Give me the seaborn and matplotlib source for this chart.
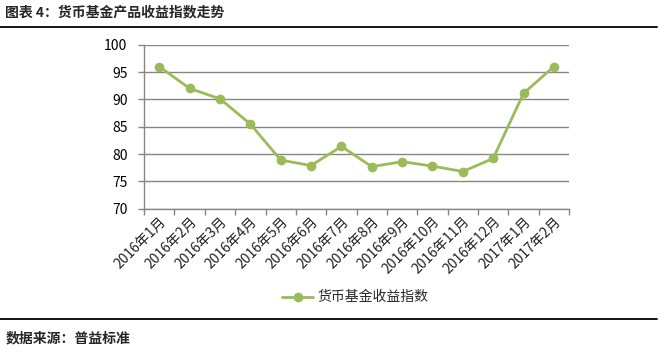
import numpy as np
import pandas as pd
import matplotlib
matplotlib.use('Agg')
import matplotlib.pyplot as plt
import seaborn as sns
from matplotlib.lines import Line2D

months = ['2016年1月', '2016年2月', '2016年3月', '2016年4月', '2016年5月', '2016年6月',
          '2016年7月', '2016年8月', '2016年9月', '2016年10月', '2016年11月', '2016年12月',
          '2017年1月', '2017年2月']
index_values = [96.0, 92.0, 90.1, 85.5, 78.9, 77.9, 81.4, 77.7, 78.6, 77.8, 76.8, 79.2, 91.1, 96.0]
series_name = '货币基金收益指数'
yticks = [70, 75, 80, 85, 90, 95, 100]

sns.set_theme(style='white')
plt.rcParams['font.family'] = ['Noto Sans CJK SC', 'DejaVu Sans']

green = '#9BBB59'
grid_c = '#868686'

df = pd.DataFrame({'pos': np.arange(len(months)), 'value': index_values})

fig = plt.figure(figsize=(6.64, 3.52), dpi=100)
ax = fig.add_axes([0.217, 0.407, 0.640, 0.466])

sns.lineplot(data=df, x='pos', y='value', ax=ax, color=green, linewidth=2,
             marker='o', markersize=7, markeredgewidth=0, legend=False)

ax.set_xlim(-0.5, len(months) - 0.5)
ax.set_ylim(70, 100)
ax.set_yticks(yticks)
ax.set_yticklabels([str(v) for v in yticks], fontsize=10, color='black')
ax.yaxis.grid(True, color=grid_c, linewidth=1)
ax.set_axisbelow(True)

# Excel-style: ticks between categories, labels at the centres
ax.set_xticks(np.arange(-0.5, len(months), 1.0))
ax.set_xticklabels([])
ax.set_xticks(np.arange(len(months)), minor=True)
ax.set_xticklabels(months, minor=True, rotation=45, ha='right', rotation_mode='anchor',
                   fontsize=10, color='#222222')
ax.tick_params(axis='x', which='major', length=4, color=grid_c, width=1, direction='out', bottom=True)
ax.tick_params(axis='x', which='minor', length=0, pad=4)
ax.tick_params(axis='y', length=4, color=grid_c, width=1, direction='out', left=True, pad=8)
ax.set_xlabel('')
ax.set_ylabel('')

for s in ['top', 'right']:
    ax.spines[s].set_visible(False)
for s in ['left', 'bottom']:
    ax.spines[s].set_color(grid_c)
    ax.spines[s].set_linewidth(1)

handle = Line2D([], [], color=green, linewidth=2, marker='o', markersize=7, markeredgewidth=0)
fig.legend([handle], [series_name], loc='center', bbox_to_anchor=(0.535, 0.155),
           frameon=False, fontsize=10, handlelength=2.2, handletextpad=0.3)

# title, rules and source
fig.text(0.008, 0.965, '图表 4：货币基金产品收益指数走势', fontsize=10, fontweight='bold',
         ha='left', va='center')
fig.add_artist(Line2D([0.0, 0.99], [0.923, 0.923], color='black', linewidth=1.3,
                      transform=fig.transFigure))
fig.add_artist(Line2D([0.0, 0.99], [0.094, 0.094], color='black', linewidth=1.3,
                      transform=fig.transFigure))
fig.text(0.008, 0.04, '数据来源：普益标准', fontsize=10, fontweight='bold',
         ha='left', va='center')

fig.savefig('out.png', dpi=100)
